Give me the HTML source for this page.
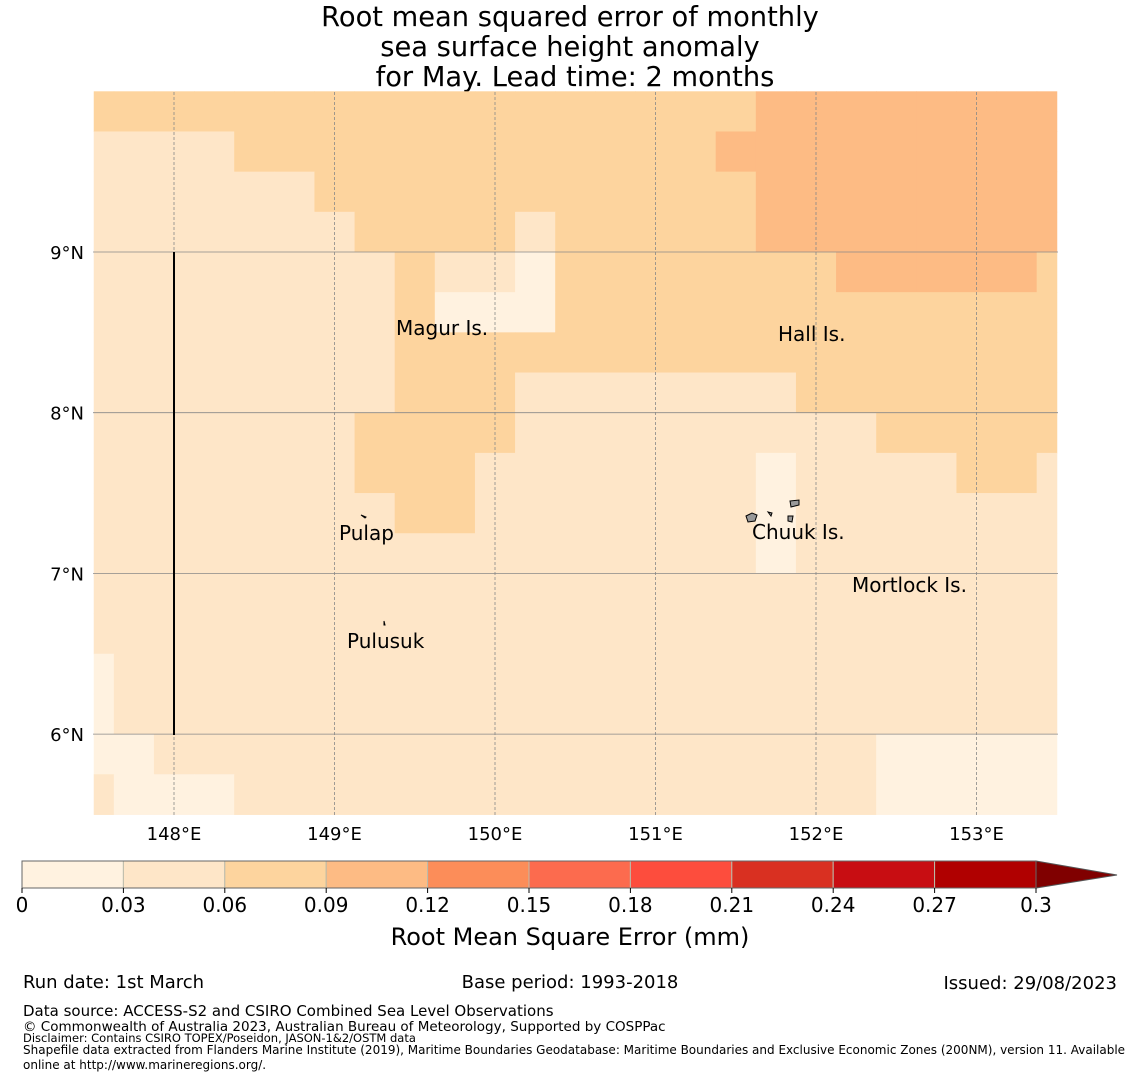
<!DOCTYPE html>
<html><head><meta charset="utf-8"><style>
body{margin:0;background:#fff;width:1140px;height:1080px;overflow:hidden;font-family:"Liberation Sans","DejaVu Sans",sans-serif}
svg{display:block}
</style></head><body>
<svg id="chart" width="1140" height="1080" viewBox="0 0 1140 1080" font-family="DejaVu Sans, Liberation Sans, sans-serif">
<g font-size="27.3" text-anchor="middle" fill="#000">
<text x="570" y="26">Root mean squared error of monthly</text>
<text x="570" y="56">sea surface height anomaly</text>
<text x="575" y="86">for May. Lead time: 2 months</text>
</g>
<g id="cells"></g>
<g id="grid"></g>
<line x1="174" y1="252" x2="174" y2="735" stroke="#000" stroke-width="2"/>
<g fill="#999" stroke="#000" stroke-width="1">
<path d="M746 516 l6 -3 l5 2 l-2 6 l-7 1z"/><path d="M790 501 l9 -1 l0 5 l-8 2z"/><path d="M788 516 l5 0 l-1 6 l-4 -1z"/>
<path d="M768 512 l4 1 l-1 3z"/><path d="M361 515 l5 2 l-1 1z"/><path d="M384 621 l1 4 l-1 0z"/>
</g>
<g font-size="20" fill="#000">
<text x="396" y="335">Magur Is.</text><text x="778" y="341">Hall Is.</text>
<text x="339" y="540">Pulap</text><text x="752" y="539">Chuuk Is.</text>
<text x="852" y="592">Mortlock Is.</text><text x="347" y="648">Pulusuk</text>
</g>
<g id="xt" font-size="18" text-anchor="middle"></g>
<g id="yt" font-size="18" text-anchor="end"></g>
<g id="cbar"></g>
<text x="570" y="945" font-size="24" text-anchor="middle">Root Mean Square Error (mm)</text>
<g font-size="18" fill="#000">
<text x="23" y="988">Run date: 1st March</text>
<text x="570" y="988" text-anchor="middle">Base period: 1993-2018</text>
<text x="1117" y="989" text-anchor="end">Issued: 29/08/2023</text>
<text x="23" y="1016" font-size="15">Data source: ACCESS-S2 and CSIRO Combined Sea Level Observations</text>
<text x="23" y="1031" font-size="13.5">© Commonwealth of Australia 2023, Australian Bureau of Meteorology, Supported by COSPPac</text>
<text x="23" y="1042" font-size="11.5">Disclaimer: Contains CSIRO TOPEX/Poseidon, JASON-1&amp;2/OSTM data</text>
<text x="23" y="1054" font-size="12">Shapefile data extracted from Flanders Marine Institute (2019), Maritime Boundaries Geodatabase: Maritime Boundaries and Exclusive Economic Zones (200NM), version 11. Available</text>
<text x="23" y="1069" font-size="12">online at http://www.marineregions.org/.</text>
</g>
</svg>
<script>
// RMSE level codes per row (north to south), 25 columns; value = level*0.03+0.015
const rowLevels = [
"2222222222222222233333333",
"1111222222222222333333333",
"1111112222222222233333333",
"1111111222212222233333333",
"1111111121102222222333332",
"1111111120002222222222222",
"1111111122222222222222222",
"1111111122211111112222222",
"1111111222211111111122222",
"1111111222111111101111221",
"1111111122111111101111111",
"1111111111111111101111111",
"1111111111111111111111111",
"1111111111111111111111111",
"0111111111111111111111111",
"0111111111111111111111111",
"0011111111111111111100000",
"1000111111111111111100000"];
const rmse = rowLevels.map(r => r.split('').map(c => +c * 0.03 + 0.015));
const bounds = [0,0.03,0.06,0.09,0.12,0.15,0.18,0.21,0.24,0.27,0.3];
const binColors = ['#fff2e0','#fee6c8','#fdd49e','#fdbb84','#fc8d59','#fc6b4e','#fd4d3d','#d93021','#c80d12','#b00000'];
const lonTicks = [148,149,150,151,152,153];
const latTicks = [6,7,8,9];
const cbTicks = ['0','0.03','0.06','0.09','0.12','0.15','0.18','0.21','0.24','0.27','0.3'];
const NS='http://www.w3.org/2000/svg';
const x = lon => 174 + (lon-148)*160.5;
const y = lat => 252 - (lat-9)*160.7;
function mk(tag, attrs, parent){const e=document.createElementNS(NS,tag);for(const k in attrs)e.setAttribute(k,attrs[k]);parent.appendChild(e);return e;}
function colorFor(v){for(let i=0;i<bounds.length-1;i++) if(v<bounds[i+1]) return binColors[i]; return '#800000';}
const cells=document.getElementById('cells');
rmse.forEach((row,r)=>{row.forEach((v,c)=>{
  const lon0 = c===0 ? 147.5 : 147.625+(c-1)*0.25;
  const lon1 = c===24 ? 153.5 : 147.625+c*0.25;
  const lat0 = 10 - r*0.25, lat1 = lat0-0.25;
  const e=mk('rect',{x:x(lon0),y:y(lat0),width:x(lon1)-x(lon0)+0.5,height:y(lat1)-y(lat0)+0.5,fill:colorFor(v)},cells);
  
  
});});
const grid=document.getElementById('grid'), xt=document.getElementById('xt'), yt=document.getElementById('yt');
lonTicks.forEach(l=>{
  const e=mk('line',{x1:x(l),y1:92,x2:x(l),y2:815,stroke:'#888','stroke-width':0.8,'stroke-dasharray':'3,2'},grid);
  
  
  const t=mk('text',{x:x(l),y:840},xt); t.textContent=l+'°E';
  
  
});
latTicks.forEach(l=>{
  const e=mk('line',{x1:93,y1:y(l),x2:1058,y2:y(l),stroke:'#888','stroke-width':0.8},grid);
  
  
  const t=mk('text',{x:84,y:y(l)+7},yt); t.textContent=l+'°N';
  
  
});
const cb=document.getElementById('cbar');
const cx = v => 22 + v/0.3*1014;
binColors.forEach((col,i)=>{
  const e=mk('rect',{x:cx(bounds[i]),y:861,width:cx(bounds[i+1])-cx(bounds[i]),height:27,fill:col,stroke:'#bba',"stroke-width":1},cb);
  
  
});
const tri=mk('polygon',{points:`${cx(0.3)},861 1117,875 ${cx(0.3)},888`,fill:'#800000',stroke:'#555'},cb);


const ol=mk('rect',{x:22,y:861,width:1014,height:27,fill:'none',stroke:'#666'},cb);


cbTicks.forEach((s,i)=>{
  mk('line',{x1:cx(bounds[i]),y1:888,x2:cx(bounds[i]),y2:893,stroke:'#000'},cb);
  const t=mk('text',{x:cx(bounds[i]),y:912,'font-size':20,'text-anchor':'middle'},cb); t.textContent=s;
  
  
});
</script>
</body></html>
